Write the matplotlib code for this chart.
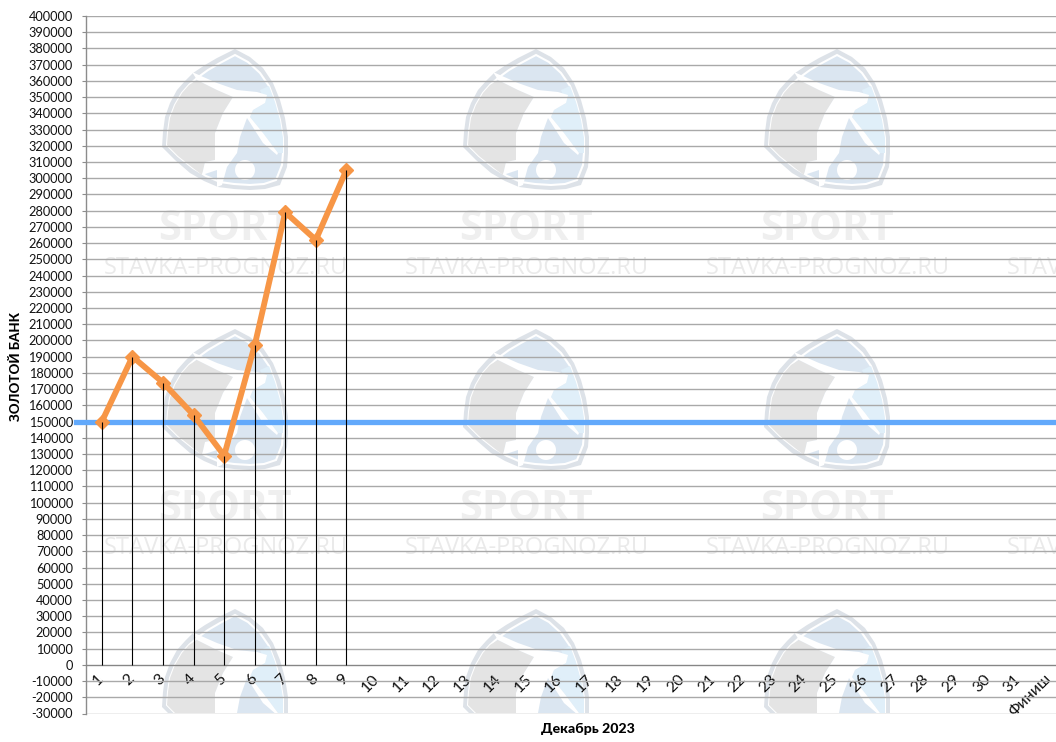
import matplotlib
matplotlib.use('Agg')
import matplotlib.pyplot as plt
from matplotlib.patches import Polygon, Circle

plt.rcParams['font.family'] = ['Lato', 'Open Sans', 'DejaVu Sans']

# Data
days = [str(d) for d in range(1, 32)] + ['Финиш']
bank = [150000, 190000, 174000, 154000, 129000, 197000, 279000, 262000, 305000]
start_bank = 150000
y_ticks = list(range(-30000, 400001, 10000))

# Watermark layout, in pixels
logo_cols = [160, 461, 762]
logo_rows = [50, 330, 610]
shield = [(75, -1), (90, 7), (103, 18), (113, 33), (120, 50), (125, 68), (128, 87), (128, 103),
          (127, 117), (120, 135), (105, 139), (90, 140), (74, 139), (58, 137), (44, 131), (30, 123),
          (15, 110), (2, 97), (3, 82), (5, 67), (10, 53), (17, 40), (25, 31), (33, 23), (45, 15), (57, 8)]
shield_in = [(75, 5), (88, 12), (100, 23), (109, 36), (115, 52), (120, 70), (123, 88), (123, 103),
             (122, 115), (116, 130), (104, 134), (90, 135), (74, 134), (60, 132), (46, 126), (33, 118),
             (18, 106), (7, 95), (8, 82), (10, 68), (15, 55), (22, 43), (29, 35), (37, 28), (48, 20), (60, 13)]
shield_gray = [(37, 30), (57, 40), (73, 47), (63, 63), (55, 83), (55, 110), (45, 112), (42, 125),
               (33, 118), (18, 106), (7, 95), (8, 82), (10, 68), (15, 55), (22, 43), (29, 35)]
shield_sky = [(100, 40), (109, 36), (115, 52), (120, 70), (123, 88), (123, 103), (118, 103),
              (103, 83), (90, 67), (93, 60), (105, 53)]
player = [(32, 22), (57, 33), (77, 40), (97, 42), (107, 45), (105, 53), (93, 60), (90, 67), (103, 83),
          (118, 103), (117, 105), (103, 93), (87, 68), (80, 87), (77, 103), (67, 117), (62, 135),
          (57, 137), (57, 120), (42, 125), (45, 112), (55, 110), (55, 83), (63, 63), (73, 47),
          (57, 40), (37, 30)]


def logo_poly(pts, lx, ly, fc, zorder, ec='none', lw=0):
    bg.add_patch(Polygon([(lx + a, ly + b) for a, b in pts], closed=True, fc=fc, ec=ec, lw=lw, zorder=zorder))


fig = plt.figure(figsize=(10.56, 7.42), dpi=100)

# Background layer for the watermark, it stops at the bottom of the plot area
bg = fig.add_axes([0, 29 / 742, 1, 713 / 742], zorder=0)
bg.set_xlim(0, 1056)
bg.set_ylim(713, 0)
bg.axis('off')

for ly in logo_rows:
    for lx in logo_cols:
        logo_poly(shield, lx, ly, '#dde2e8', 1)
        logo_poly(shield_in, lx, ly, '#dbe6f1', 2, ec='white', lw=1.5)
        logo_poly(shield_gray, lx, ly, '#e4e4e4', 3)
        logo_poly(shield_sky, lx, ly, '#e0eff9', 3)
        logo_poly(player, lx, ly, 'white', 4)
        bg.add_patch(Circle((lx + 85, ly + 120), 10, fc='white', ec='none', zorder=4))
        if ly < 600:
            bg.text(lx + 65, ly + 179, 'SPORT', fontsize=30, fontweight='bold', color='#efefef',
                    ha='center', va='center', family=['Open Sans', 'DejaVu Sans'], zorder=5)
    if ly < 600:
        for lx in logo_cols + [1063]:
            bg.text(lx - 56, ly + 218, 'STAVKA-PROGNOZ.RU', fontsize=17, color='#eaeaea',
                    ha='left', va='center', family=['Open Sans', 'DejaVu Sans'], zorder=5, clip_on=True)

# Main chart
ax = fig.add_axes([86 / 1056, 1 - 713.5 / 742, 970 / 1056, 697.5 / 742], zorder=1)
ax.patch.set_alpha(0)

# spine position resets the ticks, so it goes before the tick labels
ax.spines['top'].set_visible(False)
ax.spines['right'].set_visible(False)
ax.spines['bottom'].set_position(('data', 0))
ax.spines['bottom'].set_color('#868686')
ax.spines['left'].set_color('#8c8c8c')
ax.spines['left'].set_linewidth(1)

x = list(range(len(bank)))
ax.vlines(x, 0, bank, color='black', lw=0.8, zorder=4)
ax.axhline(start_bank, xmin=-10 / 970, color='#62a9fb', lw=3.8, clip_on=False, zorder=3)
ax.plot(x, bank, color='#f79646', lw=4.2, marker='D', ms=7.5, zorder=3.5, solid_joinstyle='round')

ax.set_xlim(-0.52, 31.22)
ax.set_ylim(-30000, 400000)
ax.set_yticks(y_ticks)
ax.set_yticklabels([str(v) for v in y_ticks], fontsize=9.2, color='#111111')
ax.grid(axis='y', color='#a9a9a9', lw=1)
ax.set_axisbelow(True)

ax.tick_params(axis='x', length=0, pad=8.5)
ax.tick_params(axis='y', length=3, width=0.8, color='#8c8c8c', pad=6.5)
ax.set_xticks(range(len(days)))
ax.set_xticklabels(days, fontsize=11.5, rotation=45, ha='right', va='center',
                   rotation_mode='anchor', color='#111111')

fig.text(16 / 1056, 1 - 366 / 742, 'ЗОЛОТОЙ БАНК', rotation=90, fontsize=9.5, fontweight='black',
         ha='center', va='center')
fig.text(588 / 1056, 1 - 729 / 742, 'Декабрь 2023', fontsize=10.2, fontweight='black',
         ha='center', va='center')

fig.savefig('out.png', dpi=100)
